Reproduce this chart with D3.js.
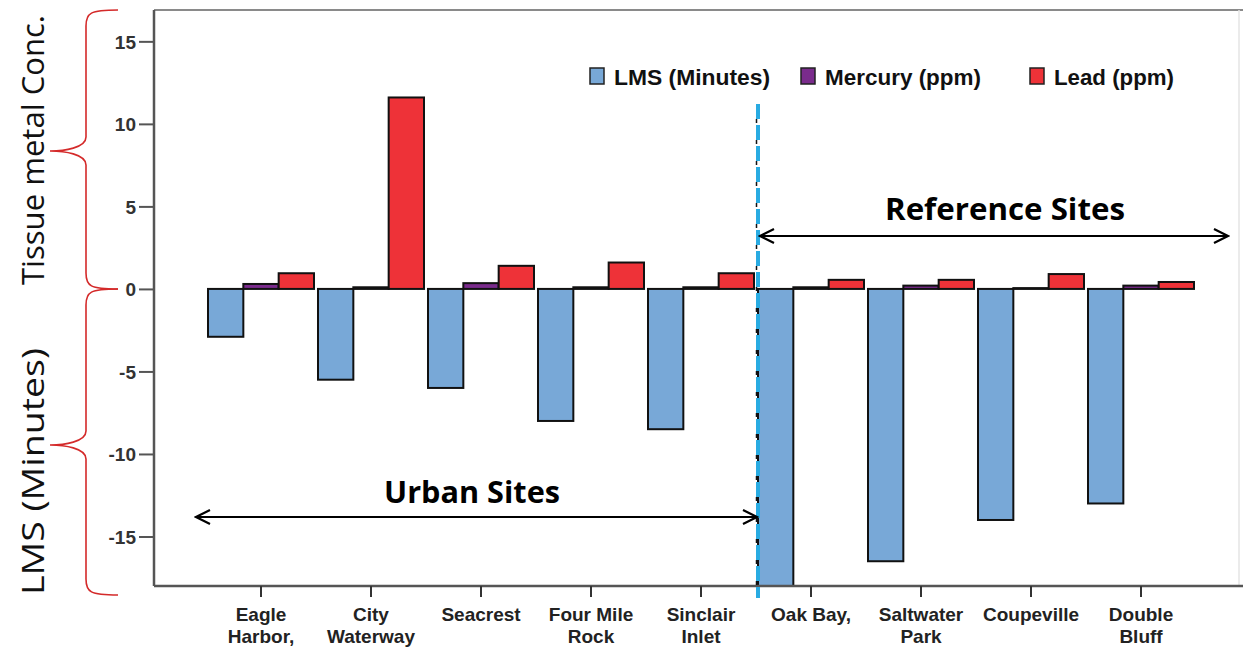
<!DOCTYPE html>
<html>
<head>
<meta charset="utf-8">
<script src="https://cdn.jsdelivr.net/npm/d3@7/dist/d3.min.js"></script>
<style>
  html, body { margin: 0; padding: 0; background: #fff; }
  svg { display: block; }
  .narrow { font-family: "Liberation Sans Narrow", "Arial Narrow", "Liberation Sans", Arial, sans-serif; font-weight: bold; }
</style>
</head>
<body>
<svg id="chart" width="1243" height="649"></svg>
<script>
const sites = ["Eagle Harbor,", "City Waterway", "Seacrest", "Four Mile Rock", "Sinclair Inlet", "Oak Bay,", "Saltwater Park", "Coupeville", "Double Bluff"];
const siteLines = [["Eagle", "Harbor,"], ["City", "Waterway"], ["Seacrest"], ["Four Mile", "Rock"], ["Sinclair", "Inlet"], ["Oak Bay,"], ["Saltwater", "Park"], ["Coupeville"], ["Double", "Bluff"]];
const seriesNames = ["LMS (Minutes)", "Mercury (ppm)", "Lead (ppm)"];
const lms = [-2.9, -5.5, -6.0, -8.0, -8.5, -18.0, -16.5, -14.0, -13.0];
const mercury = [0.3, 0.1, 0.35, 0.1, 0.1, 0.1, 0.2, 0.05, 0.2];
const lead = [0.95, 11.6, 1.4, 1.6, 0.95, 0.55, 0.55, 0.9, 0.42];
const yTicks = [15, 10, 5, 0, -5, -10, -15];
const colors = ["#78a8d7", "#7a2b8c", "#ee3238"];

(function () {
const svg = d3.select("#chart");
const W = 1243;
const padL = 154, padT = 10, padB = 586;

const y = d3.scaleLinear().domain([-18, 16.9]).range([padB, padT]);
const x0 = d3.scaleBand().domain(sites).range([206, 1196]).paddingInner(4/110).paddingOuter(2/110);
const x1 = d3.scaleBand().domain(seriesNames).range([0, x0.bandwidth()]);
const values = [lms, mercury, lead];

// frame
svg.append("line").attr("x1", padL).attr("x2", W).attr("y1", padT).attr("y2", padT).attr("stroke", "#8a8a8a").attr("stroke-width", 2);
svg.append("line").attr("x1", 1239).attr("x2", 1239).attr("y1", padT).attr("y2", padB).attr("stroke", "#e4e4e4").attr("stroke-width", 1.5);

// bars
const g = svg.append("g");
sites.forEach((s, i) => {
  seriesNames.forEach((n, k) => {
    const v = values[k][i];
    g.append("rect")
      .attr("x", x0(s) + x1(n))
      .attr("width", x1.bandwidth())
      .attr("y", y(Math.max(0, v)))
      .attr("height", Math.abs(y(v) - y(0)))
      .attr("fill", colors[k])
      .attr("stroke", "#111")
      .attr("stroke-width", 2);
  });
});

// y axis
const yAxis = svg.append("g").attr("transform", `translate(${padL},0)`)
  .call(d3.axisLeft(y).tickValues(yTicks).tickSize(15).tickPadding(3).tickFormat(d => String(d)));
yAxis.select(".domain").attr("stroke", "#555").attr("stroke-width", 2.5).attr("d", `M0,${padT}V${padB}`);
yAxis.selectAll(".tick line").attr("stroke", "#555").attr("stroke-width", 2);
yAxis.selectAll(".tick text").attr("font-family", "Liberation Sans, Arial, sans-serif").attr("font-weight", "bold").attr("font-size", 19).attr("fill", "#333").attr("dy", "0.36em");

// x axis
const xAxis = svg.append("g").attr("transform", `translate(0,${padB})`)
  .call(d3.axisBottom(x0).tickSize(11).tickFormat(""));
xAxis.select(".domain").attr("stroke", "#555").attr("stroke-width", 2.5).attr("d", `M${padL},0H${W}`);
xAxis.selectAll(".tick line").attr("stroke", "#333").attr("stroke-width", 2);
xAxis.selectAll(".tick").each(function(d, i) {
  const t = d3.select(this).append("text").attr("class", "narrow").attr("fill", "#222").attr("font-size", 19).attr("text-anchor", "middle");
  siteLines[i].forEach((ln, j) => {
    t.append("tspan").attr("x", 0).attr("y", 35 + j * 22).text(ln);
  });
});

// dashed divider
const divX = x0(sites[5]);
svg.append("line").attr("x1", divX - 1.5).attr("x2", divX - 1.5).attr("y1", 104).attr("y2", 598)
  .attr("stroke", "#111").attr("stroke-width", 1.5).attr("stroke-dasharray", "4 17").attr("stroke-dashoffset", -15);
svg.append("line").attr("x1", divX).attr("x2", divX).attr("y1", 104).attr("y2", 598)
  .attr("stroke", "#29abe2").attr("stroke-width", 4).attr("stroke-dasharray", "15 6");

// legend
const legX = [590, 801, 1030];
const legW = [156, 156, 120];
seriesNames.forEach((n, k) => {
  svg.append("rect").attr("x", legX[k]).attr("y", 68).attr("width", 14).attr("height", 16)
    .attr("fill", colors[k]).attr("stroke", "#222").attr("stroke-width", 1.5);
  svg.append("text").attr("class", "narrow").attr("x", legX[k] + 24).attr("y", 85)
    .attr("font-size", 22).attr("fill", "#111")
    .attr("textLength", legW[k]).attr("lengthAdjust", "spacingAndGlyphs").text(n);
});

// arrows
const defs = svg.append("defs");
defs.append("marker").attr("id", "head").attr("viewBox", "0 0 20 20").attr("refX", 18).attr("refY", 10)
  .attr("markerWidth", 20).attr("markerHeight", 20).attr("markerUnits", "userSpaceOnUse").attr("orient", "auto-start-reverse")
  .append("path").attr("d", "M4,3 L18,10 L4,17").attr("fill", "none").attr("stroke", "#000").attr("stroke-width", 2.2);

svg.append("line").attr("x1", 760).attr("x2", 1228).attr("y1", 236).attr("y2", 236)
  .attr("stroke", "#000").attr("stroke-width", 2.2).attr("marker-start", "url(#head)").attr("marker-end", "url(#head)");
svg.append("line").attr("x1", 196).attr("x2", 757).attr("y1", 517).attr("y2", 517)
  .attr("stroke", "#000").attr("stroke-width", 2.2).attr("marker-start", "url(#head)").attr("marker-end", "url(#head)");

svg.append("text").attr("x", 885).attr("y", 220)
  .attr("font-family", "Open Sans, Noto Sans, sans-serif").attr("font-weight", "bold").attr("font-size", 31).attr("fill", "#000")
  .attr("textLength", 240).attr("lengthAdjust", "spacingAndGlyphs").text("Reference Sites");
svg.append("text").attr("x", 384).attr("y", 503)
  .attr("font-family", "Open Sans, Noto Sans, sans-serif").attr("font-weight", "bold").attr("font-size", 31).attr("fill", "#000")
  .attr("textLength", 176).attr("lengthAdjust", "spacingAndGlyphs").text("Urban Sites");

// braces
function brace(y1, y2, tipY) {
  const sx = 86, ex = 118, tx = 50;
  return `M${ex},${y1} C${sx + 4},${y1} ${sx},${y1 + 3} ${sx},${y1 + 16} L${sx},${tipY - 14} C${sx},${tipY - 3} ${tx + 14},${tipY} ${tx},${tipY} ` +
         `C${tx + 14},${tipY} ${sx},${tipY + 3} ${sx},${tipY + 14} L${sx},${y2 - 16} C${sx},${y2 - 3} ${sx + 4},${y2} ${ex},${y2}`;
}
svg.append("path").attr("d", brace(10, 289, 151)).attr("fill", "none").attr("stroke", "#d42a2a").attr("stroke-width", 1.6);
svg.append("path").attr("d", brace(289, 595, 445)).attr("fill", "none").attr("stroke", "#d42a2a").attr("stroke-width", 1.6);

// y titles
svg.append("text").attr("transform", "translate(44,285) rotate(-90)")
  .attr("font-family", "Open Sans, Noto Sans, sans-serif").attr("font-size", 31).attr("fill", "#111")
  .attr("textLength", 270).attr("lengthAdjust", "spacingAndGlyphs").text("Tissue metal Conc.");
svg.append("text").attr("transform", "translate(44,595) rotate(-90)")
  .attr("font-family", "Open Sans, Noto Sans, sans-serif").attr("font-size", 31).attr("fill", "#111")
  .attr("textLength", 247).attr("lengthAdjust", "spacingAndGlyphs").text("LMS (Minutes)");
})();
</script>
</body>
</html>
